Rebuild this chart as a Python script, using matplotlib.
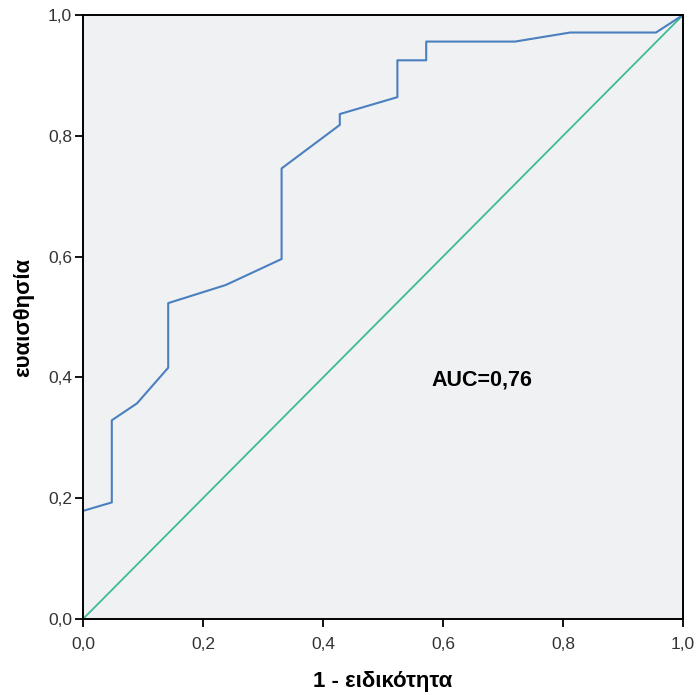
import matplotlib
matplotlib.use("Agg")
import matplotlib.pyplot as plt

# ROC curve points (1 - specificity, sensitivity)
fpr = [0.0, 0.048, 0.048, 0.090, 0.142, 0.142, 0.238, 0.331, 0.331,
       0.428, 0.428, 0.524, 0.524, 0.572, 0.572, 0.720, 0.812, 0.955, 1.0]
tpr = [0.179, 0.193, 0.329, 0.357, 0.416, 0.523, 0.553, 0.596, 0.746,
       0.818, 0.836, 0.864, 0.925, 0.925, 0.956, 0.956, 0.971, 0.971, 1.0]
ref_line = [0.0, 1.0]
ticks = [0.0, 0.2, 0.4, 0.6, 0.8, 1.0]
tick_labels = ["0,0", "0,2", "0,4", "0,6", "0,8", "1,0"]
auc_text = "AUC=0,76"

plt.rcParams['font.family'] = ['Liberation Sans', 'DejaVu Sans']

fig = plt.figure(figsize=(6.96, 6.95), dpi=100)
ax = fig.add_axes([83 / 696, 1 - 619 / 695, 600 / 696, 604 / 695])
ax.set_facecolor("#f0f1f3")

ax.plot(ref_line, ref_line, color="#3dba96", lw=1.3)
ax.plot(fpr, tpr, color="#4a7fc0", lw=1.5)

ax.set_xlim(0, 1)
ax.set_ylim(0, 1)
ax.set_xticks(ticks)
ax.set_xticklabels(tick_labels)
ax.set_yticks(ticks)
ax.set_yticklabels(tick_labels)
ax.tick_params(direction="out", length=6, width=1.3, labelsize=12.5,
               labelcolor="#333333")
ax.tick_params(axis="x", pad=7)
ax.tick_params(axis="y", pad=2)
for s in ax.spines.values():
    s.set_linewidth(1.4)

ax.set_xlabel("1 - ειδικότητα", fontsize=16, fontweight="bold", labelpad=14)
ax.set_ylabel("ευαισθησία", fontsize=16, fontweight="bold", labelpad=10)

ax.text(0.665, 0.396, auc_text, fontsize=15.5, fontweight="bold",
        ha="center", va="center")

fig.savefig("out.png", dpi=100)
